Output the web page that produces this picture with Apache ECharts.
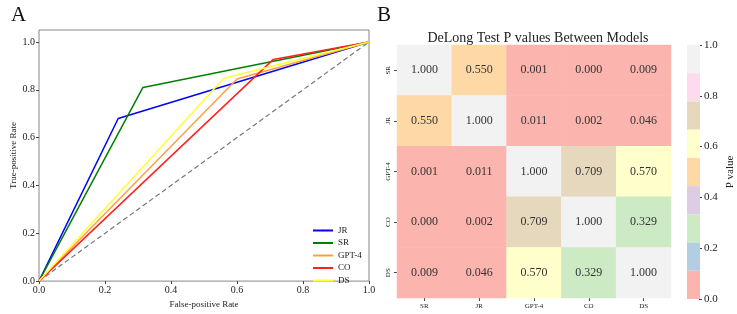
<!DOCTYPE html>
<html>
<head>
<meta charset="utf-8">
<script src="https://cdn.jsdelivr.net/npm/echarts@6/dist/echarts.min.js"></script>
<style>
  html, body { margin: 0; padding: 0; background: #fff; }
  #main { width: 737px; height: 314px; }
</style>
</head>
<body>
<div id="main"></div>
<script>
// ROC curves (fpr, tpr points)
const rocNames = ["JR", "SR", "GPT-4", "CO", "DS"];
const rocColors = ["#0000ff", "#008000", "#ffa040", "#ff2020", "#ffff33"];
const rocJR = [[0, 0], [0.24, 0.68], [1, 1]];
const rocSR = [[0, 0], [0.315, 0.81], [1, 1]];
const rocGPT4 = [[0, 0], [0.6, 0.845], [1, 1]];
const rocCO = [[0, 0], [0.71, 0.927], [1, 1]];
const rocDS = [[0, 0], [0.56, 0.848], [1, 1]];
const chanceLine = [[0, 0], [1, 1]];
const rocTicks = [0, 0.2, 0.4, 0.6, 0.8, 1.0];

// DeLong p values
const models = ["SR", "JR", "GPT-4", "CO", "DS"];
const pValues = [
  [1.000, 0.550, 0.001, 0.000, 0.009],
  [0.550, 1.000, 0.011, 0.002, 0.046],
  [0.001, 0.011, 1.000, 0.709, 0.570],
  [0.000, 0.002, 0.709, 1.000, 0.329],
  [0.009, 0.046, 0.570, 0.329, 1.000]
];
// Pastel1 colormap, 9 bins over 0..1
const pastel1 = ["#fbb4ae", "#b3cde3", "#ccebc5", "#decbe4", "#fed9a6", "#ffffcc", "#e5d8bd", "#fddaec", "#f2f2f2"];
const binEdges = [0, 1 / 9, 2 / 9, 3 / 9, 4 / 9, 5 / 9, 6 / 9, 7 / 9, 8 / 9, 1];
const cbarTicks = [0, 0.2, 0.4, 0.6, 0.8, 1.0];

const font = "Liberation Serif";
const rocData = [rocJR, rocSR, rocGPT4, rocCO, rocDS];

const heatData = [];
pValues.forEach((row, i) => {
  row.forEach((v, j) => heatData.push([j, i, v]));
});

const pieces = pastel1.map((c, k) => ({
  min: binEdges[k], max: binEdges[k + 1], color: c
}));

var myChart = echarts.init(document.getElementById("main"), null, { renderer: "canvas" });

var rocSeries = rocNames.map((n, k) => ({
  name: n,
  type: "line",
  xAxisIndex: 0,
  yAxisIndex: 0,
  data: rocData[k],
  symbol: "none",
  lineStyle: { color: rocColors[k], width: 1.5 },
  itemStyle: { color: rocColors[k] },
  animation: false,
  z: 3
}));

var axisLabelStyle = { fontFamily: font, fontSize: 10, color: "#222" };

var option = {
  animation: false,
  textStyle: { fontFamily: font },
  title: [
    { text: "A", left: 6, top: 0, textStyle: { fontFamily: font, fontSize: 21, fontWeight: "normal", color: "#111" } },
    { text: "B", left: 372, top: 0, textStyle: { fontFamily: font, fontSize: 21, fontWeight: "normal", color: "#111" } },
    { text: "DeLong Test P values Between Models", left: 533, top: 26, textAlign: "center",
      textStyle: { fontFamily: font, fontSize: 14, fontWeight: "normal", color: "#222" } }
  ],
  legend: {
    orient: "vertical",
    left: 307,
    top: 221,
    data: rocNames,
    itemWidth: 20,
    itemHeight: 2,
    itemGap: 3.5,
    textStyle: { fontFamily: font, fontSize: 9, color: "#222" }
  },
  grid: [
    { left: 39, top: 30, width: 330, height: 261, show: true, borderColor: "#888", borderWidth: 1, backgroundColor: "transparent" },
    { left: 397, top: 45, width: 274, height: 253 },
    { left: 687, top: 45, width: 13, height: 254 }
  ],
  xAxis: [
    {
      gridIndex: 0, type: "value", min: 0, max: 1, interval: 0.2,
      name: "False-positive Rate", nameLocation: "middle", nameGap: 16,
      nameTextStyle: { fontFamily: font, fontSize: 9, color: "#222" },
      axisLine: { show: false },
      axisTick: { show: true, length: 3, lineStyle: { color: "#444" } },
      axisLabel: Object.assign({ margin: 4, formatter: v => v.toFixed(1) }, axisLabelStyle),
      splitLine: { show: false }
    },
    {
      gridIndex: 1, type: "category", data: models,
      axisLine: { show: false },
      axisTick: { show: true, length: 3, alignWithLabel: true, lineStyle: { color: "#444" } },
      axisLabel: { fontFamily: font, fontSize: 7, color: "#222", margin: 5 },
      splitLine: { show: false }
    },
    {
      gridIndex: 2, type: "category", data: [""], show: false
    }
  ],
  yAxis: [
    {
      gridIndex: 0, type: "value", min: 0, max: 1.05,
      name: "True-positive Rate", nameLocation: "middle", nameGap: 20,
      nameTextStyle: { fontFamily: font, fontSize: 9, color: "#222" },
      axisLine: { show: false },
      axisTick: { show: true, length: 3, customValues: rocTicks, lineStyle: { color: "#444" } },
      axisLabel: Object.assign({ margin: 4, customValues: rocTicks, formatter: v => v.toFixed(1) }, axisLabelStyle),
      splitLine: { show: false }
    },
    {
      gridIndex: 1, type: "category", data: models, inverse: true,
      axisLine: { show: false },
      axisTick: { show: true, length: 3, alignWithLabel: true, lineStyle: { color: "#444" } },
      axisLabel: { fontFamily: font, fontSize: 7, color: "#222", rotate: 90, margin: 5 },
      splitLine: { show: false }
    },
    {
      gridIndex: 2, type: "value", min: 0, max: 1, position: "right",
      name: "P value", nameLocation: "middle", nameGap: 26, nameRotate: 90,
      nameTextStyle: { fontFamily: font, fontSize: 11, color: "#222" },
      axisLine: { show: false },
      axisTick: { show: true, length: 3, customValues: cbarTicks, lineStyle: { color: "#444" } },
      axisLabel: Object.assign({ margin: 5, customValues: cbarTicks, formatter: v => v.toFixed(1) }, axisLabelStyle, { fontSize: 11 }),
      splitLine: { show: false }
    }
  ],
  visualMap: {
    type: "piecewise",
    seriesIndex: 6,
    pieces: pieces,
    left: 687,
    top: 45,
    orient: "vertical",
    itemWidth: 13,
    itemHeight: 254 / 9,
    itemGap: 0,
    itemSymbol: "rect",
    showLabel: false,
    selectedMode: false,
    hoverLink: false,
    padding: 0,
    text: null
  },
  series: rocSeries.concat([
    {
      name: "chance",
      type: "line",
      xAxisIndex: 0,
      yAxisIndex: 0,
      data: chanceLine,
      symbol: "none",
      lineStyle: { color: "#777", width: 1.2, type: [5, 3] },
      z: 2
    },
    {
      name: "pvalues",
      type: "heatmap",
      xAxisIndex: 1,
      yAxisIndex: 1,
      data: heatData,
      label: {
        show: true,
        fontFamily: font,
        fontSize: 12,
        color: "#333",
        formatter: p => p.value[2].toFixed(3)
      },
      emphasis: { disabled: true }
    }
  ])
};

myChart.setOption(option);
</script>
</body>
</html>
